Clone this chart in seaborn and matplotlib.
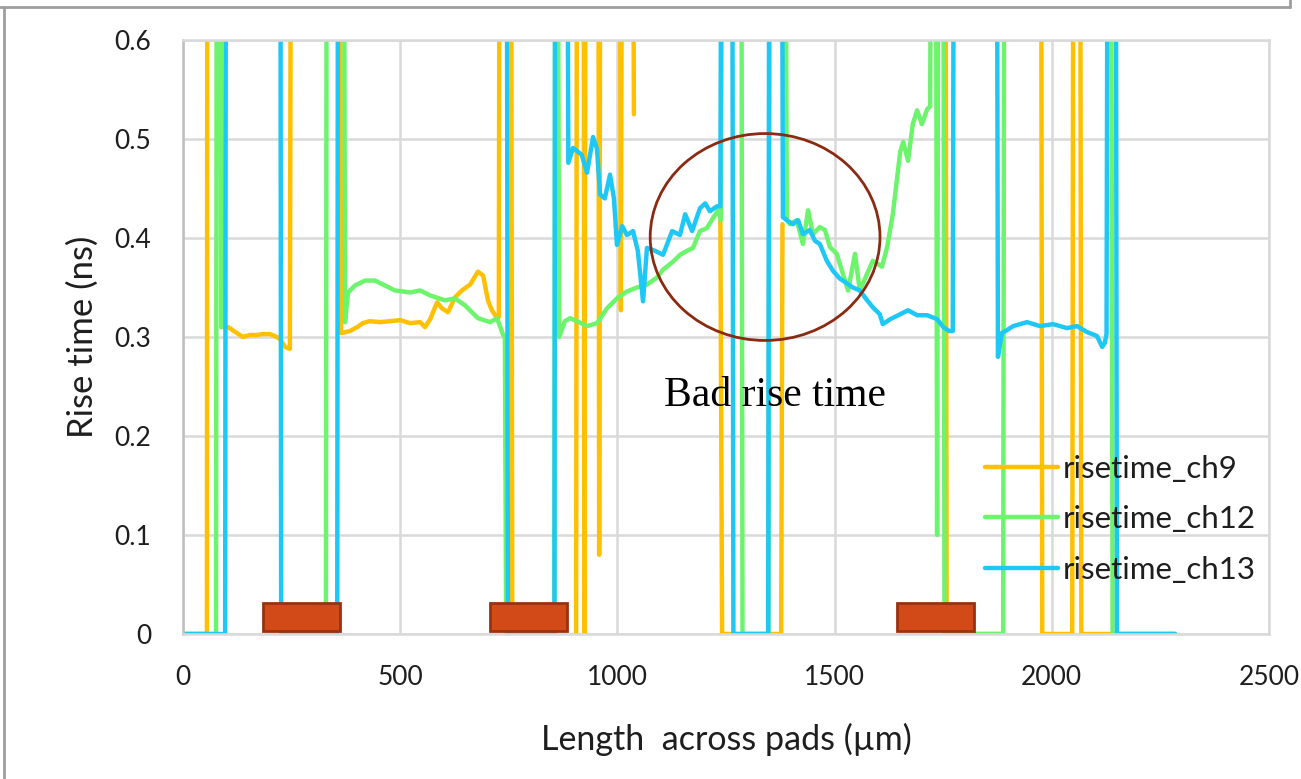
import numpy as np
import pandas as pd
import matplotlib
matplotlib.use("Agg")
import matplotlib.pyplot as plt
from matplotlib.patches import Ellipse
from matplotlib.lines import Line2D
import seaborn as sns

HI = 0.9      # readings above the 0.6 axis limit (off-scale)
NA = np.nan   # gap where the trace is hidden / not visible

# (length across pads in um, rise time in ns)
ch9 = [(0, 0), (55, 0), (56, HI), (86, HI), (90, 0.31), (104, 0.31), (124, 0.304), (138, 0.30),
       (154, 0.302), (170, 0.302), (184, 0.303), (200, 0.303), (216, 0.30), (223, 0.298),
       (235, 0.29), (246, 0.288), (249, HI), (360, HI), (364, 0.304), (384, 0.306), (401, 0.31),
       (414, 0.314), (430, 0.316), (453, 0.315), (500, 0.317), (523, 0.314), (546, 0.315),
       (557, 0.31), (569, 0.318), (585, 0.335), (596, 0.329), (610, 0.325), (626, 0.34),
       (642, 0.347), (661, 0.353), (679, 0.366), (691, 0.362), (702, 0.337), (711, 0.327),
       (723, 0.319), (727, 0.32), (729, HI), (755, HI), (758, 0), (855, 0), (NA, NA),
       (905, 0), (907, HI), (922, HI), (924, 0), (927, HI), (956, HI), (958, 0.08), (961, HI),
       (1005, HI), (1008, 0.327), (1011, HI), (1035, HI), (1038, 0.525), (NA, NA),
       (1237, 0.42), (1241, 0), (1377, 0), (1380, 0.414), (NA, NA),
       (1755, HI), (1758, 0), (1888, 0), (NA, NA),
       (1975, HI), (1978, 0), (2047, 0), (2050, HI), (2065, HI), (2068, 0), (2284, 0)]

ch12 = [(0, 0), (76, 0), (78, HI), (86, HI), (88, 0.31), (NA, NA),
        (329, 0), (331, HI), (370, HI), (373, 0.315), (380, 0.345), (396, 0.352), (419, 0.357),
        (442, 0.357), (465, 0.352), (488, 0.347), (523, 0.345), (546, 0.347), (569, 0.342),
        (603, 0.337), (626, 0.339), (649, 0.332), (679, 0.319), (707, 0.315), (723, 0.319),
        (737, 0.302), (741, 0.30), (744, 0), (855, 0), (857, HI), (862, HI), (866, 0.30),
        (879, 0.316), (891, 0.319), (907, 0.316), (930, 0.311), (953, 0.314), (976, 0.329),
        (999, 0.339), (1022, 0.346), (1045, 0.35), (1068, 0.353), (1091, 0.36), (1105, 0.368),
        (1128, 0.376), (1144, 0.383), (1160, 0.387), (1174, 0.39), (1190, 0.407), (1206, 0.41),
        (1220, 0.42), (1232, 0.428), (1238, 0.418), (1243, HI), (1285, HI), (1288, 0),
        (1348, 0), (1351, HI), (1386, HI), (1390, 0.418), (1397, 0.414), (1413, 0.418),
        (1427, 0.394), (1439, 0.428), (1450, 0.404), (1466, 0.411), (1478, 0.408),
        (1489, 0.391), (1505, 0.384), (1519, 0.364), (1531, 0.347), (1547, 0.384),
        (1558, 0.347), (1575, 0.364), (1588, 0.377), (1609, 0.371), (1621, 0.391),
        (1634, 0.424), (1651, 0.487), (1658, 0.497), (1669, 0.478), (1680, 0.515),
        (1690, 0.529), (1701, 0.515), (1713, 0.53), (1720, 0.533), (1723, HI), (1733, HI),
        (1736, 0.10), (1739, HI), (1750, HI), (1753, 0), (1888, 0), (1891, HI), (1896, HI),
        (NA, NA), (2136, HI), (2140, 0), (2284, 0)]

ch13 = [(0, 0), (97, 0), (99, HI), (224, HI), (226, 0), (355, 0), (357, HI), (745, HI),
        (748, 0), (855, 0), (857, HI), (884, HI), (887, 0.476), (898, 0.491), (918, 0.484),
        (930, 0.466), (944, 0.502), (953, 0.49), (960, 0.444), (971, 0.44), (983, 0.464),
        (992, 0.44), (999, 0.393), (1011, 0.412), (1022, 0.403), (1036, 0.407), (1047, 0.387),
        (1059, 0.336), (1068, 0.39), (1087, 0.387), (1105, 0.383), (1126, 0.407),
        (1144, 0.403), (1156, 0.424), (1172, 0.407), (1190, 0.43), (1202, 0.435),
        (1213, 0.427), (1229, 0.432), (1237, 0.432), (1240, HI), (1264, HI), (1267, 0),
        (1347, 0), (1350, HI), (1378, HI), (1381, 0.421), (1390, 0.418), (1404, 0.414),
        (1416, 0.418), (1427, 0.404), (1443, 0.408), (1455, 0.397), (1466, 0.394),
        (1482, 0.377), (1496, 0.367), (1512, 0.359), (1529, 0.354), (1542, 0.35),
        (1558, 0.347), (1575, 0.337), (1588, 0.33), (1604, 0.323), (1611, 0.313),
        (1628, 0.318), (1651, 0.323), (1669, 0.327), (1690, 0.322), (1713, 0.322),
        (1736, 0.318), (1750, 0.31), (1764, 0.306), (1772, 0.306), (1775, HI), (1873, HI),
        (1876, 0.28), (1885, 0.304), (1897, 0.307), (1911, 0.311), (1943, 0.315),
        (1973, 0.311), (2003, 0.313), (2035, 0.309), (2058, 0.311), (2081, 0.305),
        (2104, 0.301), (2116, 0.29), (2122, 0.294), (2126, 0.303), (2129, HI), (2147, HI),
        (2150, 0), (2284, 0)]

series_names = ["risetime_ch9", "risetime_ch12", "risetime_ch13"]
series_colors = ["#FFC000", "#6CF46C", "#1EC8F6"]

# pads (orange rectangles on the baseline)
pad_left = [184, 707, 1644]
pad_right = [361, 884, 1821]
pad_height = 0.028

x_ticks = [0, 500, 1000, 1500, 2000, 2500]
y_ticks = [0, 0.1, 0.2, 0.3, 0.4, 0.5, 0.6]

# ---- build long table with segment ids (gaps break the line) ----
rows = []
for name, pts in zip(series_names, [ch9, ch12, ch13]):
    seg = 0
    for i, (x, y) in enumerate(pts):
        if np.isnan(x):
            seg += 1
            continue
        rows.append({"series": name, "seg": f"{name}_{seg}", "x": x, "y": y, "order": i})
df = pd.DataFrame(rows)

sns.set_theme(style="white")
plt.rcParams["font.family"] = ["Lato", "DejaVu Sans"]

TXT = "#1E1E1E"

fig = plt.figure(figsize=(13.01, 7.79), dpi=100)
ax = fig.add_axes([183 / 1301, 1 - 634 / 779, (1269 - 183) / 1301, (634 - 40) / 779])

sns.lineplot(data=df, x="x", y="y", hue="series", units="seg", estimator=None,
             sort=False, hue_order=series_names, palette=series_colors,
             linewidth=3.2, ax=ax, legend=True)

# pads
ax.bar(pad_left, pad_height, width=np.array(pad_right) - np.array(pad_left), bottom=0.003,
       align="edge", color="#D24A17", edgecolor="#9A3210", linewidth=2, zorder=5)

ax.set_xlim(0, 2500)
ax.set_ylim(0, 0.6)
ax.set_xticks(x_ticks)
ax.set_yticks(y_ticks)
ax.set_xticklabels([str(v) for v in x_ticks])
ax.set_yticklabels(["0" if v == 0 else f"{v:.1f}" for v in y_ticks])
ax.grid(True, color="#D9D9D9", linewidth=1.8)
ax.set_axisbelow(True)
for s in ax.spines.values():
    s.set_color("#D9D9D9")
    s.set_linewidth(1.8)
ax.spines["left"].set_color("#BFBFBF")
ax.tick_params(axis="both", length=0, labelsize=19, colors=TXT)
ax.tick_params(axis="x", pad=22)
ax.tick_params(axis="y", pad=23)

ax.set_xlabel("Length  across pads (\u00b5m)", fontsize=24.5, color=TXT, labelpad=24)
ax.set_ylabel("Rise time (ns)", fontsize=25, color=TXT, labelpad=11)

# annotation
ax.add_patch(Ellipse((1340, 0.401), 529, 0.209, fill=False, edgecolor="#8B2A12",
                     linewidth=2, zorder=6))
ax.text(1363, 0.241, "Bad rise time", fontsize=30, family="Liberation Serif",
        ha="center", va="center", color="black", zorder=7)

handles, labels = ax.get_legend_handles_labels()
leg = ax.legend(handles, labels, loc="center left", bbox_to_anchor=(0.7385, 0.1936),
                frameon=False, fontsize=22.5, handlelength=2.35, handletextpad=0.15,
                labelspacing=0.72, borderpad=0, borderaxespad=0)
for t in leg.get_texts():
    t.set_color(TXT)

# outer screenshot frame
fig.add_artist(Line2D([4 / 1301, 4 / 1301], [0, 1 - 7 / 779], transform=fig.transFigure,
                      color="#9E9E9E", linewidth=2))
fig.add_artist(Line2D([0, 1290 / 1301], [1 - 7 / 779, 1 - 7 / 779], transform=fig.transFigure,
                      color="#9E9E9E", linewidth=2))
fig.add_artist(Line2D([1290 / 1301, 1290 / 1301], [1 - 7 / 779, 1], transform=fig.transFigure,
                      color="#9E9E9E", linewidth=2))

fig.savefig("out.png", dpi=100)
